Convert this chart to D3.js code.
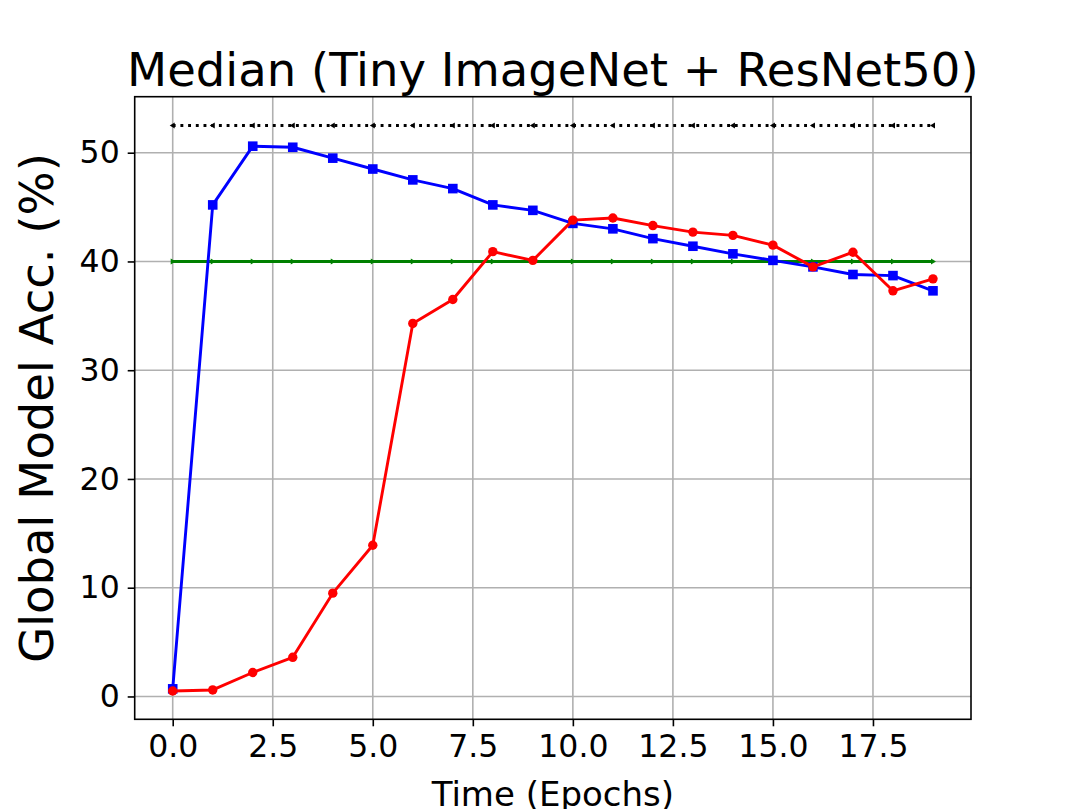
<!DOCTYPE html>
<html>
<head>
<meta charset="utf-8">
<script src="https://cdn.jsdelivr.net/npm/d3@7"></script>
<style>
  body { margin: 0; background: #fff; }
  svg { display: block; font-family: "DejaVu Sans", sans-serif; }
</style>
</head>
<body>
<svg id="chart" width="1079" height="809"></svg>
<script>
// epochs and the median accuracies
const epochs = d3.range(0, 20);
const blueAcc = [0.7, 45.2, 50.6, 50.5, 49.5, 48.5, 47.5, 46.7, 45.2, 44.7,
                 43.5, 43.0, 42.1, 41.4, 40.7, 40.1, 39.5, 38.8, 38.7, 37.3];
const redAcc = [0.5, 0.6, 2.2, 3.6, 9.5, 13.9, 34.3, 36.5, 40.9, 40.1,
                43.8, 44.0, 43.3, 42.7, 42.4, 41.5, 39.5, 40.85, 37.3, 38.4];
const greenLevel = 40;   // flat reference line
const blackLevel = 52.5; // dotted upper reference line
const xTicks = [0, 2.5, 5, 7.5, 10, 12.5, 15, 17.5];
const yTicks = [0, 10, 20, 30, 40, 50];

const svg = d3.select('#chart');
const margin = { top: 96.7, right: 108, bottom: 89.7, left: 134.7 };
const width = 1079 - margin.left - margin.right;
const height = 809 - margin.top - margin.bottom;

const plot = svg.append('g')
  .attr('transform', `translate(${margin.left}, ${margin.top})`);

// Scales (matplotlib-like 5% margins)
const xScale = d3.scaleLinear().domain([-0.95, 19.95]).range([0, width]);
const yScale = d3.scaleLinear().domain([-2.1, 55.15]).range([height, 0]);

// Grid
plot.append('g').selectAll('line')
  .data(xTicks).join('line')
  .attr('x1', d => xScale(d)).attr('x2', d => xScale(d))
  .attr('y1', 0).attr('y2', height)
  .attr('stroke', '#b0b0b0').attr('stroke-width', 1.6);
plot.append('g').selectAll('line')
  .data(yTicks).join('line')
  .attr('x1', 0).attr('x2', width)
  .attr('y1', d => yScale(d)).attr('y2', d => yScale(d))
  .attr('stroke', '#b0b0b0').attr('stroke-width', 1.6);

// Axes
const xAxis = d3.axisBottom(xScale).tickValues(xTicks)
  .tickFormat(d3.format('.1f')).tickSize(7).tickPadding(8).tickSizeOuter(0);
const yAxis = d3.axisLeft(yScale).tickValues(yTicks)
  .tickSize(7).tickPadding(8).tickSizeOuter(0);

const gx = plot.append('g')
  .attr('transform', `translate(0, ${height})`)
  .call(xAxis);
const gy = plot.append('g').call(yAxis);
[gx, gy].forEach(g => {
  g.select('.domain').remove();
  g.selectAll('line').attr('stroke', '#000').attr('stroke-width', 1.6);
  g.selectAll('text').attr('font-size', 31.5).attr('fill', '#000')
    .attr('font-family', '"DejaVu Sans", sans-serif');
});

const line = d3.line().x((d, i) => xScale(epochs[i])).y(d => yScale(d));

// Black dotted reference line with tiny left triangles
const blackVals = epochs.map(() => blackLevel);
plot.append('path').datum(blackVals)
  .attr('d', line).attr('fill', 'none')
  .attr('stroke', '#000').attr('stroke-width', 2.9)
  .attr('stroke-dasharray', '2.9,4.8');
plot.append('g').selectAll('path')
  .data(blackVals).join('path')
  .attr('transform', (d, i) => `translate(${xScale(epochs[i])}, ${yScale(d)})`)
  .attr('d', 'M-3,0L2,-3L2,3Z').attr('fill', '#000');

// Green reference line with tiny right triangles
const greenVals = epochs.map(() => greenLevel);
plot.append('path').datum(greenVals)
  .attr('d', line).attr('fill', 'none')
  .attr('stroke', 'green').attr('stroke-width', 2.9);
plot.append('g').selectAll('path')
  .data(greenVals).join('path')
  .attr('transform', (d, i) => `translate(${xScale(epochs[i])}, ${yScale(d)})`)
  .attr('d', 'M3,0L-2,-3L-2,3Z').attr('fill', 'green');

// Blue series with squares
plot.append('path').datum(blueAcc)
  .attr('d', line).attr('fill', 'none')
  .attr('stroke', 'blue').attr('stroke-width', 2.9)
  .attr('stroke-linejoin', 'round');
plot.append('g').selectAll('rect')
  .data(blueAcc).join('rect')
  .attr('x', (d, i) => xScale(epochs[i]) - 4.8)
  .attr('y', d => yScale(d) - 4.8)
  .attr('width', 9.6).attr('height', 9.6)
  .attr('fill', 'blue');

// Red series with circles
plot.append('path').datum(redAcc)
  .attr('d', line).attr('fill', 'none')
  .attr('stroke', 'red').attr('stroke-width', 2.9)
  .attr('stroke-linejoin', 'round');
plot.append('g').selectAll('circle')
  .data(redAcc).join('circle')
  .attr('cx', (d, i) => xScale(epochs[i]))
  .attr('cy', d => yScale(d))
  .attr('r', 4.7)
  .attr('fill', 'red');

// Frame
plot.append('rect')
  .attr('width', width).attr('height', height)
  .attr('fill', 'none').attr('stroke', '#000').attr('stroke-width', 1.6);

// Title and labels
svg.append('text')
  .attr('x', margin.left + width / 2)
  .attr('y', 86)
  .attr('text-anchor', 'middle')
  .attr('font-size', 46.5)
  .text('Median (Tiny ImageNet + ResNet50)');

svg.append('text')
  .attr('x', margin.left + width / 2)
  .attr('y', 806)
  .attr('text-anchor', 'middle')
  .attr('font-size', 34)
  .text('Time (Epochs)');

svg.append('text')
  .attr('transform', 'rotate(-90)')
  .attr('x', -(margin.top + height / 2))
  .attr('y', 53)
  .attr('text-anchor', 'middle')
  .attr('font-size', 46.5)
  .text('Global Model Acc. (%)');
</script>
</body>
</html>
